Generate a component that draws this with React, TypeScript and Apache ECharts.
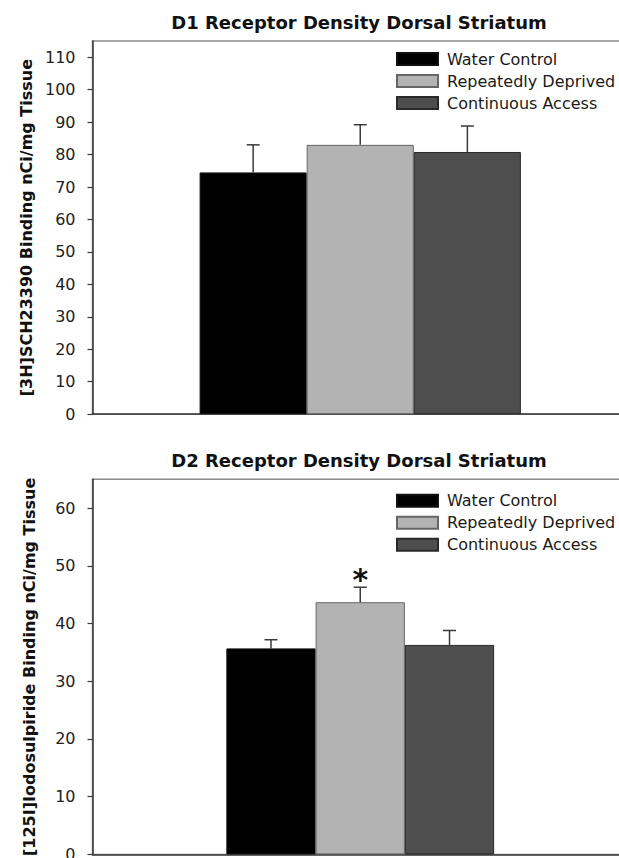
import React, { useEffect, useRef } from 'react';
import * as echarts from 'echarts';

const FONT = '"DejaVu Sans", "Liberation Sans", sans-serif';

const GROUPS = ['Water Control', 'Repeatedly Deprived', 'Continuous Access'];
const REGION = ['Dorsal Striatum'];
const FILLS = ['#000000', '#b3b3b3', '#4e4e4e'];
const EDGES = ['#111111', '#666666', '#2a2a2a'];

const D1_TITLE = 'D1 Receptor Density Dorsal Striatum';
const D1_YNAME = '[3H]SCH23390 Binding nCi/mg Tissue';
const D1_MEAN = [74.5, 83.0, 80.8];
const D1_SEM = [8.5, 6.2, 8.0];
const D1_MARK = ['', '', ''];
const D1_TICKS = [0, 10, 20, 30, 40, 50, 60, 70, 80, 90, 100, 110];
const D1_MAX = 115;

const D2_TITLE = 'D2 Receptor Density Dorsal Striatum';
const D2_YNAME = '[125I]Iodosulpiride Binding nCi/mg Tissue';
const D2_MEAN = [35.7, 43.7, 36.3];
const D2_SEM = [1.5, 2.6, 2.5];
const D2_MARK = ['', '*', ''];
const D2_TICKS = [0, 10, 20, 30, 40, 50, 60];
const D2_MAX = 65;

const AXIS_COLOR = '#3a3a3a';

function errorSeries(gi: number, means: number[], sems: number[], marks: string[], frac: number) {
  return {
    type: 'custom',
    xAxisIndex: gi,
    yAxisIndex: gi,
    z: 5,
    silent: true,
    data: means.map((m, i) => [0, m, sems[i], i]),
    encode: { x: 0, y: 1 },
    renderItem: (params: any, api: any) => {
      const k = api.value(3);
      const mean = api.value(1);
      const sem = api.value(2);
      const band = api.size([1, 0])[0];
      const bw = band * frac;
      const base = api.coord([0, mean]);
      const cx = base[0] + (k - (GROUPS.length - 1) / 2) * bw;
      const top = api.coord([0, mean + sem])[1];
      const st = { stroke: AXIS_COLOR, lineWidth: 1.5 };
      const children: any[] = [
        { type: 'line', shape: { x1: cx, y1: base[1], x2: cx, y2: top }, style: st },
        { type: 'line', shape: { x1: cx - 6.5, y1: top, x2: cx + 6.5, y2: top }, style: st },
      ];
      if (marks[k]) {
        children.push({
          type: 'text',
          x: cx,
          y: top - 8,
          style: {
            text: marks[k],
            font: 'bold 30px ' + FONT,
            fill: '#111',
            align: 'center',
            verticalAlign: 'middle',
          },
        });
      }
      return { type: 'group', children };
    },
  };
}

function barSeries(gi: number, means: number[], width: string) {
  return GROUPS.map((g, k) => ({
    type: 'bar',
    name: g,
    xAxisIndex: gi,
    yAxisIndex: gi,
    data: [means[k]],
    barWidth: width,
    barGap: '0%',
    itemStyle: { color: FILLS[k], borderColor: EDGES[k], borderWidth: 1 },
  }));
}

function yAxis(gi: number, name: string, max: number, ticks: number[]) {
  return {
    type: 'value',
    gridIndex: gi,
    min: 0,
    max,
    name,
    nameLocation: 'middle',
    nameGap: 55,
    nameRotate: 90,
    nameTextStyle: { fontFamily: FONT, fontWeight: 'bold', fontSize: 16, color: '#111' },
    axisLine: { show: true, lineStyle: { color: AXIS_COLOR, width: 1.5 } },
    axisTick: { show: true, length: 5, customValues: ticks, lineStyle: { color: AXIS_COLOR, width: 1.2 } },
    axisLabel: { customValues: ticks, margin: 17, fontSize: 16, fontFamily: FONT, color: '#222' },
    splitLine: { show: false },
  };
}

function xAxis(gi: number) {
  return {
    type: 'category',
    gridIndex: gi,
    data: REGION,
    axisLine: { show: true, lineStyle: { color: AXIS_COLOR, width: 1.5 } },
    axisTick: { show: false },
    axisLabel: { show: false },
  };
}

function legend(top: number) {
  return {
    data: GROUPS,
    orient: 'vertical',
    left: 396,
    top,
    padding: 0,
    itemWidth: 41,
    itemHeight: 12,
    itemGap: 6,
    icon: 'rect',
    selectedMode: false,
    textStyle: { fontFamily: FONT, fontSize: 16, color: '#1a1a1a', padding: [0, 0, 0, 4] },
  };
}

const gridBase = {
  left: 92.5,
  width: 535.5,
  show: true,
  borderColor: '#8a8a8a',
  borderWidth: 1.5,
  backgroundColor: 'transparent',
  containLabel: false,
  outerBoundsMode: 'none',
};

export default function App() {
  const ref = useRef<HTMLDivElement>(null);
  useEffect(() => {
    if (!ref.current) return;
    const chart = echarts.init(ref.current, undefined, { renderer: 'svg' });
    chart.setOption({
      animation: false,
      backgroundColor: '#ffffff',
      title: [
        {
          text: D1_TITLE,
          left: 359,
          top: 13,
          padding: 0,
          textAlign: 'center',
          textStyle: { fontFamily: FONT, fontWeight: 'bold', fontSize: 18, color: '#111' },
        },
        {
          text: D2_TITLE,
          left: 359,
          top: 451,
          padding: 0,
          textAlign: 'center',
          textStyle: { fontFamily: FONT, fontWeight: 'bold', fontSize: 18, color: '#111' },
        },
      ],
      legend: [legend(51), legend(492.7)],
      grid: [
        { ...gridBase, top: 41, height: 373.2 },
        { ...gridBase, top: 479.3, height: 375.1 },
      ],
      xAxis: [xAxis(0), xAxis(1)],
      yAxis: [yAxis(0, D1_YNAME, D1_MAX, D1_TICKS), yAxis(1, D2_YNAME, D2_MAX, D2_TICKS)],
      series: [
        ...barSeries(0, D1_MEAN, '20%'),
        errorSeries(0, D1_MEAN, D1_SEM, D1_MARK, 0.2),
        ...barSeries(1, D2_MEAN, '16.67%'),
        errorSeries(1, D2_MEAN, D2_SEM, D2_MARK, 0.1667),
      ],
    });
    return () => chart.dispose();
  }, []);
  return (
    <div
      ref={ref}
      style={{ position: 'fixed', left: 0, top: 0, width: 619, height: 858, background: '#fff' }}
    />
  );
}
